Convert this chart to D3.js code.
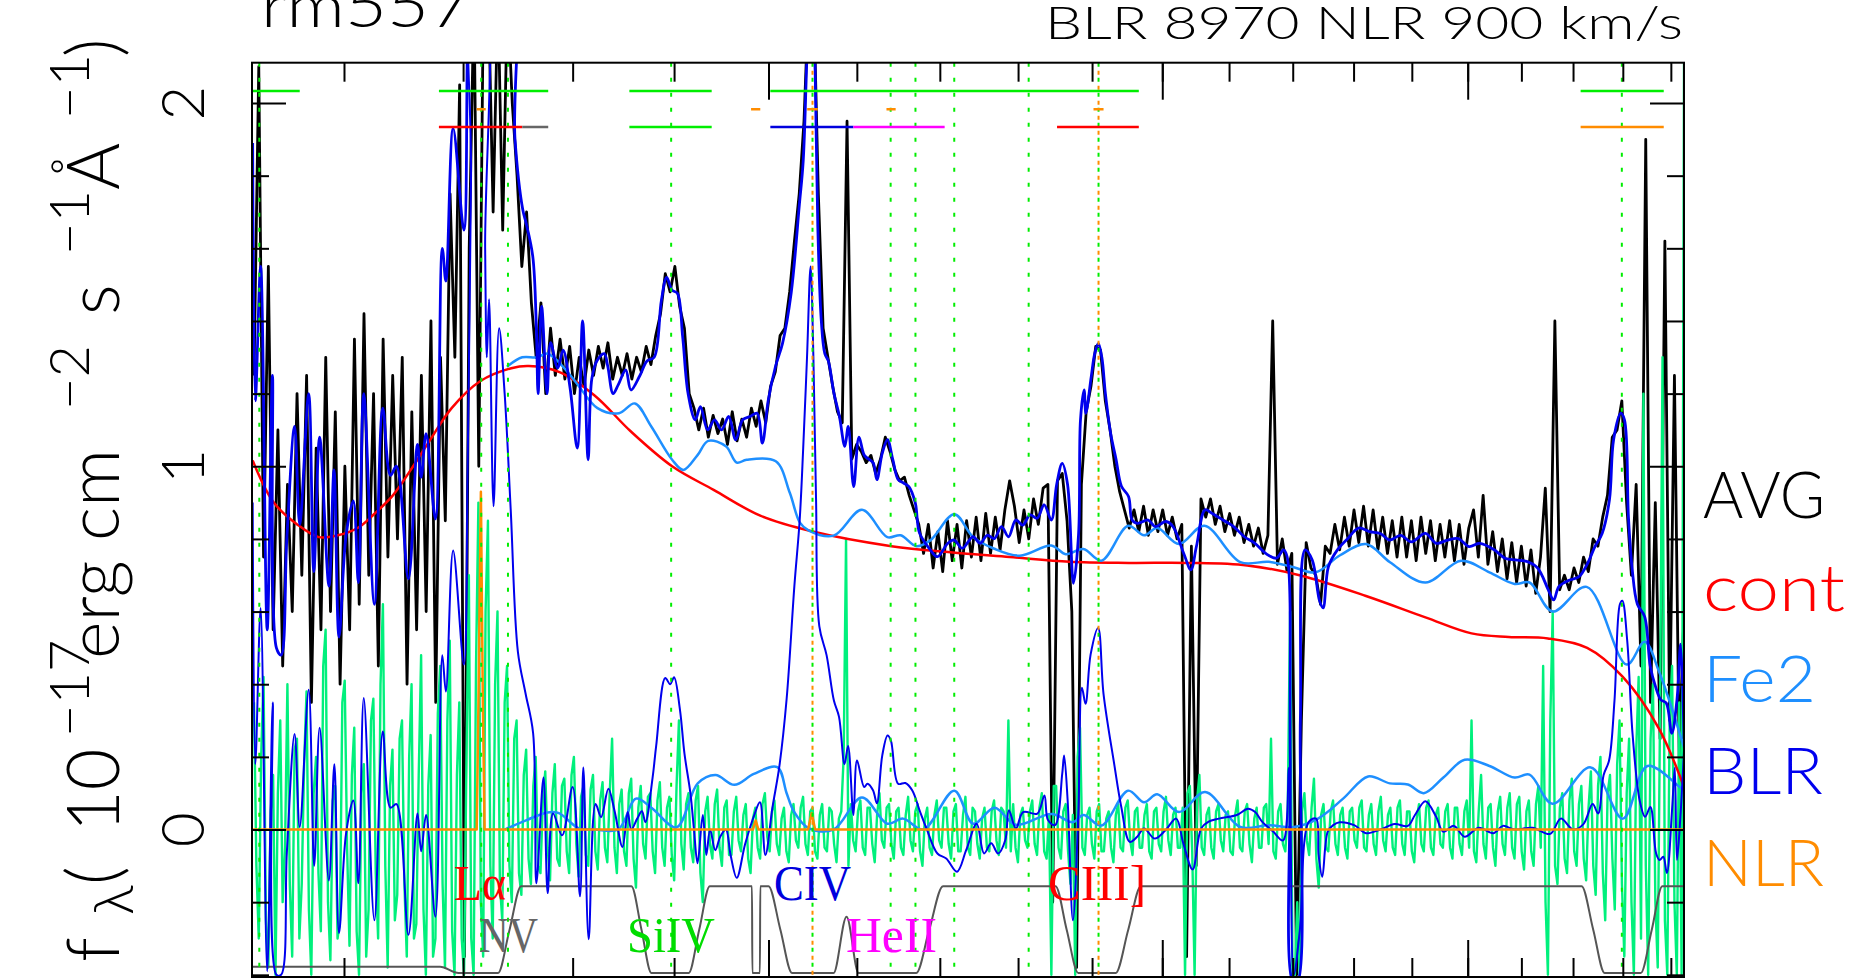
<!DOCTYPE html>
<html>
<head>
<meta charset="utf-8">
<script src="https://cdn.jsdelivr.net/npm/d3@7"></script>
<style>
html, body { margin: 0; padding: 0; background: #fff; overflow: hidden; }
svg { display: block; }
.hershey { font-family: Lato, "DejaVu Sans", sans-serif; font-weight: 300; }
.serif { font-family: "Liberation Serif", "Times New Roman", serif; }
</style>
</head>
<body>
<div id="chart-area"></div>
<script>
//DATA
// rest-frame wavelength range (log spaced) of the two noisy series
var gridLo = 1030, gridHi = 2928;

var avgFlux = [
	1.25, 2.10, 0.75, 1.55, 0.55, 1.10, 0.45, 0.95, 0.60, 1.20,
	0.70, 1.25, 0.35, 1.05, 0.55, 1.30, 0.60, 1.15, 0.40, 1.00,
	0.55, 1.35, 0.62, 1.42, 0.70, 1.20, 0.45, 1.35, 0.75, 1.25,
	0.80, 1.30, 0.40, 1.15, 0.55, 1.25, 0.60, 1.40, 0.35, 1.30,
	0.85, 1.75, 1.30, 2.05, -0.35, 1.60, 2.30, 1.00, 2.35, 2.30,
	1.70, 2.30, 1.65, 2.30, 2.00, 1.80, 1.55, 1.70, 1.45, 1.30,
	1.45, 1.20, 1.38, 1.25, 1.35, 1.24, 1.33, 1.20, 1.30, 1.22,
	1.32, 1.25, 1.33, 1.27, 1.34, 1.24, 1.30, 1.25, 1.31, 1.24,
	1.30, 1.26, 1.33, 1.28, 1.36, 1.42, 1.53, 1.48, 1.55, 1.44,
	1.38, 1.20, 1.16, 1.10, 1.16, 1.08, 1.14, 1.09, 1.13, 1.06,
	1.15, 1.07, 1.13, 1.08, 1.16, 1.11, 1.18, 1.12, 1.22, 1.26,
	1.36, 1.38, 1.48, 1.62, 1.75, 1.95, 2.30, 2.30, 1.75, 1.38,
	1.30, 1.22, 1.15, 1.12, 1.95, 1.02, 1.06, 1.04, 1.01, 1.03,
	0.98, 1.02, 1.08, 1.04, 0.99, 0.96, 0.97, 0.92, 0.88, 0.84,
	0.76, 0.84, 0.72, 0.82, 0.71, 0.85, 0.74, 0.84, 0.72, 0.85,
	0.75, 0.86, 0.74, 0.87, 0.76, 0.86, 0.77, 0.88, 0.96, 0.89,
	0.79, 0.88, 0.80, 0.91, 0.84, 0.94, 0.95, -0.20, 0.96, 0.98,
	0.85, 0.60, -0.38, 0.95, 1.15, 1.22, 1.33, 1.32, 1.18, 1.10,
	1.00, 0.93, 0.88, 0.83, 0.88, 0.82, 0.89, 0.81, 0.88, 0.82,
	0.88, 0.81, 0.86, 0.80, 0.84, -0.35, 0.78, -0.10, 0.91, 0.86,
	0.91, 0.84, 0.89, 0.82, 0.87, 0.81, 0.86, 0.79, 0.84, 0.78,
	0.83, 0.76, 0.81, 1.40, 0.73, 0.80, 0.71, 0.76, -0.40, 0.30,
	0.79, 0.72, 0.70, 0.62, 0.78, 0.76, 0.84, 0.77, 0.86, 0.78,
	0.88, 0.79, 0.89, 0.78, 0.88, 0.77, 0.86, 0.76, 0.85, 0.75,
	0.86, 0.75, 0.85, 0.74, 0.86, 0.76, 0.85, 0.74, 0.84, 0.75,
	0.85, 0.74, 0.84, 0.73, 0.83, 0.88, 0.75, 0.92, 0.73, 0.82,
	0.71, 0.80, 0.69, 0.79, 0.68, 0.78, 0.67, 0.77, 0.65, 0.75,
	0.94, 0.60, 1.40, 0.66, 0.70, 0.66, 0.72, 0.68, 0.75, 0.71,
	0.80, 0.78, 0.86, 0.92, 1.08, 1.10, 1.18, 0.90, 0.70, 0.95,
	0.45, 1.90, 0.35, 0.90, 0.25, 1.62, 0.30, 1.25, 0.20, 0.60
];

var residFlux = [
	0.35, -0.10, -0.30, 0.20, 0.42, -0.25, -0.38, 0.05, 0.15, -0.40,
	0.10, 0.30, -0.20, -0.05, 0.40, -0.15, -0.35, 0.22, 0.25, -0.30,
	-0.15, 0.18, 0.38, -0.22, -0.40, 0.10, 0.20, -0.12, -0.28, 0.45,
	0.55, -0.20, -0.36, 0.08, 0.12, -0.30, -0.25, 0.35, 0.41, -0.05,
	-0.32, 0.15, 0.28, -0.28, -0.40, 0.10, 0.18, -0.35, -0.22, 0.30,
	0.36, -0.12, -0.30, 0.40, 0.62, -0.10, -0.38, 0.12, 0.22, -0.25,
	-0.18, 0.25, 0.30, -0.15, -0.35, 0.20, 0.40, -0.30, -0.26, 0.15,
	0.48, -0.22, -0.40, 0.12, 0.26, -0.35, -0.30, 0.32, 0.45, -0.15,
	-0.38, 0.30, 0.52, -0.28, -0.40, 0.15, 0.35, -0.30, -0.40, 0.20,
	0.70, -0.30, -0.40, 0.45, 0.90, -0.20, -0.35, 0.60, 0.85, -0.10,
	-0.30, 0.40, 0.60, -0.15, -0.25, 0.35, 0.45, -0.10, -0.20, 0.25,
	0.30, -0.12, -0.18, 0.15, 0.22, -0.08, -0.15, 0.12, 0.20, -0.10,
	-0.12, 0.08, 0.16, -0.05, -0.14, 0.10, 0.18, -0.08, -0.10, 0.12,
	0.14, -0.06, -0.12, 0.15, 0.20, -0.04, -0.13, 0.09, 0.12, -0.07,
	-0.10, 0.11, 0.15, -0.06, -0.11, 0.08, 0.13, -0.05, -0.09, 0.10,
	0.25, -0.05, -0.12, 0.07, 0.11, -0.06, -0.10, 0.10, 0.14, -0.08,
	-0.16, 0.06, 0.12, -0.04, -0.08, 0.09, 0.10, -0.06, -0.12, 0.08,
	0.13, -0.05, -0.10, 0.06, 0.09, -0.07, -0.14, 0.12, 0.30, -0.04,
	-0.11, 0.07, 0.10, -0.05, -0.09, 0.08, 0.12, -0.12, -0.20, 0.05,
	0.09, -0.04, -0.08, 0.07, 0.11, -0.05, -0.10, 0.06, 0.08, -0.07,
	-0.07, 0.05, 0.09, -0.03, -0.06, 0.04, 0.07, -0.08, -0.12, 0.03,
	0.06, -0.05, -0.08, 0.07, 0.10, -0.02, -0.06, 0.05, 0.08, -0.04,
	-0.07, 0.03, 0.06, -0.06, -0.09, 0.04, 0.07, -0.03, -0.05, 0.06,
	0.09, -0.04, -0.07, 0.05, 0.06, -0.06, -0.08, 0.04, 0.07, -0.05,
	-0.06, 0.06, 0.05, -0.04, -0.09, 0.03, 0.05, 0.20, 0.80, -0.10,
	0.07, -0.03, -0.06, 0.05, 0.08, -0.05, -0.07, 0.06, 0.06, -0.04,
	-0.09, 0.04, 0.10, -0.03, -0.05, 0.06, 0.07, -0.04, -0.08, 0.05,
	0.06, -0.05, -0.07, 0.04, 0.09, -0.03, -0.06, 0.05, 0.07, -0.06,
	-0.10, 0.03, 0.06, -0.05, -0.07, 0.04, 0.08, -0.03, -0.05, 0.06,
	0.06, -0.04, -0.08, 0.05, 0.07, -0.06, -0.06, 0.04, 0.09, -0.05,
	-0.07, 0.06, 0.05, -0.04, -0.08, 0.03, 0.06, -0.05, -0.06, 0.05,
	0.08, -0.03, -0.07, 0.06, 0.05, -0.05, 0.30, -0.06, 0.07, -0.05,
	-0.09, 0.04, 0.06, -0.03, -0.05, 0.05, 0.08, -0.04, -0.07, 0.06,
	0.10, -0.06, -0.08, 0.04, -0.40, 0.12, 0.12, -0.05, -0.08, 0.05,
	0.07, -0.06, -0.15, 0.04, -0.40, 0.20, 0.28, -0.05, -0.07, 0.04,
	0.06, -0.04, -0.08, 0.05, 0.07, -0.06, -0.06, 0.03, 0.05, -0.05,
	-0.09, 0.04, 0.07, -0.05, -0.06, 0.06, 0.08, -0.03, -0.07, 0.05,
	0.06, -0.05, -0.05, 0.04, 0.07, -0.06, -0.08, 0.05, 0.06, -0.04,
	-0.06, 0.05, 0.09, -0.03, -0.07, 0.04, 0.06, -0.05, -0.05, 0.06,
	-0.40, 0.10, 0.12, -0.06, -0.40, 0.08, 0.15, -0.05, -0.07, 0.04,
	0.06, -0.05, -0.08, 0.05, 0.07, -0.03, -0.06, 0.04, 0.05, -0.06,
	-0.07, 0.04, 0.08, -0.05, -0.06, 0.05, 0.07, -0.04, -0.09, 0.03,
	0.06, -0.05, -0.05, 0.06, 0.07, -0.04, 0.25, -0.06, -0.08, 0.05,
	0.07, -0.04, -0.06, 0.05, 0.60, -0.40, -0.40, -0.20, -0.40, 0.05,
	0.10, -0.03, -0.07, 0.06, 0.14, -0.08, -0.16, 0.04, 0.07, -0.05,
	-0.06, 0.05, 0.08, -0.04, -0.07, 0.04, 0.06, -0.05, -0.08, 0.05,
	0.06, -0.03, -0.05, 0.06, 0.08, -0.05, -0.06, 0.04, 0.07, -0.04,
	-0.07, 0.05, 0.09, -0.03, -0.06, 0.04, 0.06, -0.05, -0.07, 0.06,
	0.08, -0.04, -0.07, 0.05, 0.05, -0.06, -0.09, 0.03, 0.07, -0.04,
	-0.06, 0.06, 0.08, -0.05, -0.07, 0.04, 0.06, -0.04, -0.05, 0.05,
	0.07, -0.05, -0.08, 0.06, 0.06, -0.04, -0.07, 0.05, 0.08, -0.05,
	0.30, -0.06, -0.09, 0.05, 0.15, -0.04, -0.08, 0.06, 0.07, -0.05,
	-0.10, 0.05, 0.09, -0.04, -0.07, 0.06, 0.10, -0.05, -0.08, 0.07,
	0.09, -0.06, -0.11, 0.05, 0.08, -0.06, -0.10, 0.07, 0.12, -0.05,
	0.45, -0.20, -0.40, 0.30, 0.60, -0.10, -0.15, 0.06, 0.10, -0.08,
	-0.12, 0.08, 0.14, -0.06, -0.10, 0.07, 0.12, -0.08, -0.14, 0.06,
	0.16, -0.10, -0.18, 0.12, 0.20, -0.12, -0.25, 0.10, 0.15, -0.08,
	-0.22, 0.18, 0.30, -0.15, -0.35, 0.10, 0.25, -0.20, -0.40, 0.22,
	0.42, -0.30, 1.20, -0.10, -0.40, 0.25, 0.40, -0.20, -0.38, 0.35,
	1.30, -0.25, -0.40, 0.30, 0.45, -0.20, -0.40, 0.35, -0.40, 2.11
];

// [wavelength, flux]
var contFlux = [
	[1029, 1.016], [1045, 0.90], [1063, 0.84], [1080, 0.805], [1095, 0.81], [1111, 0.83],
	[1125, 0.87], [1140, 0.92], [1155, 0.99], [1170, 1.065], [1190, 1.16], [1215, 1.234],
	[1243, 1.27], [1259, 1.276], [1287, 1.26], [1321, 1.195], [1356, 1.097], [1398, 1.0],
	[1441, 0.935], [1491, 0.864], [1548, 0.821], [1641, 0.78], [1713, 0.763], [1789, 0.75],
	[1869, 0.737], [1952, 0.734], [2038, 0.734], [2128, 0.727], [2211, 0.70], [2321, 0.643],
	[2424, 0.584], [2507, 0.54], [2576, 0.53], [2651, 0.526], [2728, 0.50], [2800, 0.42],
	[2874, 0.28], [2928, 0.117]
];

var fe2Flux = [
	[1237, 0], [1257, 0.026], [1276.5, 0.047], [1287, 0.045], [1306, 0.003], [1321, 0],
	[1344, 0], [1361.6, 0.085], [1377, 0.06], [1402.4, 0.006], [1424.4, 0.127], [1443, 0.15],
	[1463, 0.123], [1484, 0.153], [1509.6, 0.172], [1520, 0.10], [1528, 0.05], [1545, 0.003],
	[1573, 0], [1606, 0.088], [1636, 0.016], [1655, 0.03], [1679.6, 0], [1718, 0.107],
	[1742, 0.016], [1769.4, 0.06], [1797, 0.013], [1844.6, 0.043], [1873.6, 0.02], [1888, 0.04],
	[1913, 0.011], [1950.7, 0.107], [1973.6, 0.075], [1992.6, 0.097], [2024.6, 0.048],
	[2063.6, 0.103], [2117.4, 0.007], [2161.9, 0.012], [2201.6, 0.007], [2241, 0.03],
	[2282.5, 0.085], [2324.6, 0.146], [2361.8, 0.127], [2393, 0.124], [2421, 0.10],
	[2456, 0.143], [2494.5, 0.192], [2540, 0.175], [2587, 0.143], [2615.5, 0.151],
	[2660, 0.071], [2735, 0.171], [2800, 0.03], [2851, 0.175], [2920, 0.116], [2928, 0.11]
];

var contFe2Flux = [
	[1239, 1.274], [1253, 1.30], [1266.5, 1.30], [1276.5, 1.31], [1289, 1.28], [1303.4, 1.23],
	[1323.8, 1.16], [1344.8, 1.146], [1360.4, 1.173], [1376.7, 1.11], [1398, 1.018],
	[1409.5, 0.99], [1424, 1.03], [1435.4, 1.07], [1454, 1.055], [1465.6, 1.01], [1476.3, 1.018],
	[1508, 1.014], [1523.5, 0.927], [1534.8, 0.845], [1544.9, 0.823], [1573, 0.809],
	[1606, 0.88], [1636, 0.805], [1652, 0.81], [1671, 0.78], [1688.2, 0.796], [1718, 0.868],
	[1742, 0.805], [1769, 0.773], [1802.4, 0.754], [1844.2, 0.782], [1863.8, 0.758],
	[1888, 0.772], [1913, 0.74], [1950.7, 0.836], [1973.6, 0.81], [1992.6, 0.83],
	[2024.6, 0.786], [2062.5, 0.836], [2117.4, 0.736], [2161.9, 0.737], [2201.6, 0.722],
	[2237, 0.708], [2277.4, 0.755], [2321, 0.786], [2362, 0.736], [2424, 0.68], [2488, 0.74],
	[2540, 0.708], [2587, 0.676], [2615.5, 0.68], [2660, 0.60], [2727, 0.668], [2808, 0.454],
	[2845, 0.517], [2875, 0.435], [2928, 0.226]
];

var blrFlux = [
	[1029, 0.9], [1031, 0.18], [1035, 0.61], [1040, -0.39], [1044.2, 0.35], [1047, -0.40],
	[1050.6, -0.40], [1055, -0.065], [1061, 0.263], [1065, 0.007], [1072, 0.385], [1076.3, -0.10],
	[1080.6, 0.28], [1087.9, -0.14], [1092.3, 0.18], [1096, -0.285], [1101.7, -0.01],
	[1107.5, 0.08], [1111.6, -0.148], [1116, 0.362], [1124.7, -0.25], [1131.6, 0.27],
	[1138, 0.06], [1143, 0.07], [1153, -0.29], [1160.7, 0.044], [1163.8, -0.06], [1168, 0.04],
	[1176, -0.24], [1181.9, 0.48], [1185, 0.38], [1191.3, 0.768], [1200.7, 0.454], [1204, 1.0],
	[1207, 1.8], [1209, 2.4], [1218, 2.4], [1219.5, 1.6], [1221, 1.30], [1223, 1.46],
	[1227, 0.89], [1232, 1.38], [1237, 1.2], [1242.5, 0.88], [1249, 0.49], [1256, 0.375],
	[1263, 0.265], [1266, -0.148], [1272.6, 0.143], [1276.5, -0.175], [1281.5, 0.044],
	[1290, -0.016], [1300, 0.117], [1307, -0.184], [1310.2, 0.171], [1315.3, -0.302],
	[1322, 0.07], [1327.3, 0.034], [1334.4, 0.112], [1340.5, 0.05], [1348.2, -0.048],
	[1353.4, 0.048], [1356.9, 0.0], [1362.8, 0.03], [1367.5, 0.05], [1371, 0.02],
	[1378.2, 0.143], [1381.8, 0.23], [1391, 0.417], [1396, 0.40], [1400, 0.419], [1406, 0.33],
	[1410.7, 0.208], [1416.8, 0.10], [1420.5, 0.0], [1424.2, -0.093], [1429.7, 0.04],
	[1433.4, -0.07], [1437.3, 0.0], [1442.8, -0.057], [1448, -0.02], [1454, 0.0], [1459, -0.07],
	[1465.6, -0.133], [1474.6, -0.04], [1484.5, 0.04], [1490.6, 0.075], [1496.6, -0.07],
	[1504.3, 0.06], [1512, 0.175], [1520, 0.36], [1528.6, 0.67], [1534.5, 0.85], [1538.5, 1.05],
	[1542.8, 1.3], [1546.8, 1.55], [1550, 1.3], [1553, 0.91], [1556.7, 0.56], [1565, 0.48],
	[1573.4, 0.355], [1579.3, 0.31], [1585.6, 0.18], [1589.8, 0.23], [1596, 0.04],
	[1600.2, 0.19], [1608.6, 0.117], [1612.5, 0.126], [1619, 0.108], [1623.6, 0.072],
	[1630, 0.204], [1636.3, 0.259], [1640.3, 0.245], [1649, 0.126], [1657.7, 0.128],
	[1666, 0.108], [1675, 0.053], [1683.5, 0.003], [1697, -0.066], [1708, -0.08],
	[1721.5, -0.116], [1733, -0.057], [1746.4, 0.016], [1755.8, -0.066], [1765, -0.038],
	[1774, -0.066], [1783.3, -0.029], [1788, 0.053], [1797.2, 0.003], [1806.7, 0.048],
	[1825.5, 0.044], [1835, 0.094], [1839.8, 0.026], [1849.4, 0.012], [1859, 0.153],
	[1861.6, 0.204], [1866.4, 0.08], [1873.6, -0.25], [1881, 0.044], [1886, 0.39],
	[1891, 0.346], [1898, 0.482], [1908.4, 0.555], [1916, 0.373], [1931, 0.18], [1941, 0.062],
	[1953, -0.034], [1963.7, -0.02], [1973.6, 0.003], [1989, -0.025], [2004.7, -0.002],
	[2020.4, 0.03], [2031, -0.038], [2044.8, -0.11], [2057.6, 0.003], [2068.3, 0.021],
	[2084.5, 0.03], [2112, 0.04], [2129.3, 0.057], [2140.4, 0.048], [2151.7, 0.021],
	[2168.4, -0.005], [2184.5, -0.03], [2194, 0.17], [2201.6, -0.40], [2211.3, -0.28],
	[2226, 0.021], [2237.9, 0.03], [2242, -0.07], [2248, -0.13], [2257, -0.006], [2266, 0.012],
	[2277, 0.02], [2301, 0.012], [2321, -0.01], [2345.5, 0.0], [2370, 0.015], [2393, 0.01],
	[2405.5, 0.04], [2424, 0.078], [2443, 0.035], [2455.8, -0.006], [2475, 0.01],
	[2494.5, -0.02], [2520, 0.005], [2547.8, -0.01], [2565, 0.01], [2587, 0.0], [2621, 0.005],
	[2655.3, -0.012], [2676, 0.03], [2700, 0.0], [2720.6, 0.015], [2739, 0.07], [2750, 0.044],
	[2761, 0.15], [2772, 0.19], [2783, 0.355], [2794, 0.62], [2799, 0.63], [2809, 0.52],
	[2820, 0.263], [2834.7, 0.08], [2846, 0.035], [2857, 0.062], [2869, -0.066],
	[2876.3, -0.084], [2884, -0.075], [2891.6, -0.12], [2902.5, 0.053], [2908.4, 0.17],
	[2913, -0.084], [2920.3, 0.035], [2928, 0.217]
];

var totalFlux = [
	[1029, 1.89], [1031, 1.18], [1035, 1.55], [1040, 0.55], [1044, 1.25], [1047, 0.5],
	[1050.6, 0.48], [1055, 0.80], [1061, 1.11], [1065, 0.84], [1072, 1.2], [1076, 0.71],
	[1080.6, 1.08], [1088, 0.67], [1092, 0.99], [1096, 0.53], [1101.7, 0.81], [1107.5, 0.905],
	[1111.6, 0.68], [1116, 1.2], [1124.7, 0.62], [1131.6, 1.16], [1138, 0.975], [1143, 1.0],
	[1153, 0.69], [1160.7, 1.06], [1163.8, 0.97], [1168, 1.09], [1176, 0.855], [1181.9, 1.6],
	[1185, 1.51], [1191.3, 1.93], [1200.7, 1.65], [1204, 2.2], [1207, 2.5], [1240, 2.5],
	[1246.4, 1.9], [1253.5, 1.706], [1256.5, 1.67], [1262.7, 1.577], [1266, 1.38],
	[1267.6, 1.2], [1270.9, 1.44], [1275.9, 1.2], [1279.2, 1.34], [1285.9, 1.27], [1291, 1.32],
	[1297.6, 1.215], [1304.4, 1.05], [1309.5, 1.4], [1314.8, 1.018], [1318.3, 1.24],
	[1323.2, 1.29], [1330.3, 1.31], [1333.8, 1.275], [1339, 1.2], [1344, 1.224],
	[1351.4, 1.265], [1356.6, 1.21], [1365.5, 1.25], [1372.6, 1.29], [1379.8, 1.30],
	[1387, 1.455], [1392.4, 1.52], [1397.9, 1.485], [1403.4, 1.476], [1408.8, 1.357],
	[1414.4, 1.2], [1421.8, 1.128], [1427.2, 1.164], [1434.7, 1.1], [1442, 1.128],
	[1449.4, 1.1], [1457, 1.137], [1464.5, 1.073], [1472, 1.128], [1480, 1.137],
	[1487.5, 1.146], [1493.3, 1.064], [1499.7, 1.182], [1507.6, 1.274], [1515.5, 1.339],
	[1525, 1.476], [1534.2, 1.72], [1538.5, 1.84], [1542.6, 2.12], [1548, 2.45],
	[1551.8, 2.12], [1555, 1.66], [1559, 1.40], [1563, 1.31], [1567, 1.29], [1573.5, 1.2],
	[1579.7, 1.138], [1586, 1.055], [1590, 1.11], [1596.3, 0.944], [1602.5, 1.08],
	[1608.8, 1.03], [1615, 1.018], [1619.3, 1.009], [1623.6, 0.963], [1630, 1.036],
	[1636.2, 1.073], [1642.6, 1.018], [1649.1, 0.963], [1655.5, 0.954], [1662, 0.944],
	[1669.8, 0.899], [1675, 0.816], [1688.2, 0.77], [1697, 0.751], [1710, 0.788],
	[1718, 0.797], [1728, 0.774], [1741.7, 0.806], [1750.8, 0.788], [1759.8, 0.81],
	[1769, 0.801], [1778.3, 0.834], [1787.5, 0.806], [1797, 0.852], [1806.3, 0.838],
	[1815.8, 0.866], [1825.3, 0.857], [1834.7, 0.894], [1844.3, 0.852], [1851.5, 0.95],
	[1859, 1.008], [1866.3, 0.95], [1874.3, 0.678], [1881.4, 0.815], [1884, 1.128],
	[1889, 1.21], [1891.4, 1.146], [1898.8, 1.246], [1903.7, 1.31], [1908.7, 1.338],
	[1913.6, 1.3], [1918.6, 1.2], [1926, 1.09], [1933.7, 1.018], [1941.2, 0.945],
	[1951.3, 0.917], [1956.4, 0.852], [1964, 0.843], [1979.5, 0.852], [1989.8, 0.834],
	[2005.4, 0.848], [2015.8, 0.834], [2031.6, 0.76], [2042.3, 0.715], [2050.5, 0.779],
	[2063.6, 0.88], [2074.4, 0.87], [2090.7, 0.852], [2107, 0.834], [2123.6, 0.806],
	[2140.2, 0.788], [2157, 0.76], [2173.9, 0.747], [2185.3, 0.77], [2191, 0.751],
	[2196, 0.2], [2200.6, -0.42], [2207.4, -0.42], [2212.3, 0.3], [2220, 0.77],
	[2231.6, 0.742], [2243.5, 0.63], [2249.3, 0.61], [2258.2, 0.724], [2273, 0.77],
	[2289.7, 0.8], [2308.5, 0.83], [2326.8, 0.82], [2345.3, 0.815], [2361.8, 0.797],
	[2380.5, 0.81], [2399, 0.792], [2424, 0.815], [2443, 0.788], [2463.5, 0.797],
	[2482.8, 0.801], [2502.3, 0.779], [2522.2, 0.788], [2549, 0.77], [2569, 0.747],
	[2589, 0.742], [2610, 0.738], [2631, 0.72], [2651.6, 0.66], [2662, 0.632],
	[2672.4, 0.669], [2693.6, 0.687], [2712, 0.696], [2729, 0.733], [2743.5, 0.779],
	[2758, 0.815], [2772.7, 0.907], [2781.2, 1.073], [2795.8, 1.146], [2803.4, 1.128],
	[2811.5, 0.861], [2819, 0.72], [2830, 0.62], [2845, 0.586], [2856.6, 0.45],
	[2867.6, 0.394], [2879, 0.357], [2890.4, 0.348], [2902, 0.265], [2913, 0.357],
	[2920.8, 0.51], [2928, 0.25]
];

var nlrFlux = [
	[1029, 0], [1212, 0], [1213.5, 0.34], [1215.7, 0.93], [1217.5, 0.34], [1219, 0],
	[1483, 0], [1486, 0.025], [1489, 0], [1544, 0], [1548, 0.045], [1552, 0], [2928, 0]
];

// fitting window mask, drawn in flux units along the bottom
var windowFlux = [
	[1029, -0.378], [1180, -0.378], [1196, -0.395], [1231, -0.395], [1241.5, -0.275],
	[1252, -0.156], [1357, -0.156], [1367, -0.275], [1377, -0.395], [1415, -0.395],
	[1426, -0.275], [1437, -0.156], [1482, -0.156], [1482.4, -0.395], [1490.6, -0.395],
	[1491, -0.156], [1500, -0.156], [1513, -0.275], [1526, -0.395], [1573, -0.395],
	[1588, -0.24], [1602, -0.395], [1671, -0.395], [1687, -0.275], [1704, -0.156],
	[1850, -0.156], [1865, -0.275], [1881, -0.395], [1933, -0.395], [1951, -0.275],
	[1969, -0.156], [2717, -0.156], [2740, -0.275], [2763, -0.395], [2837, -0.395],
	[2860, -0.275], [2882, -0.156], [2928, -0.156]
];

var lineWaves = [1034, 1216, 1240, 1397, 1549, 1640, 1670, 1718, 1814, 1909, 2798];
var narrowWaves = [1549, 1909];

// fit ranges marked along the top
var fitRanges = [[1029, 1065], [1179, 1277], [1355, 1439], [1502, 1966], [2715, 2885]];
var narrowMarks = [[1212, 1220], [1481, 1491], [1543, 1555], [1635, 1646], [1902, 1916]];
var lineRanges = [
	{ line: 'Lya', lo: 1179, hi: 1253 },
	{ line: 'NV', lo: 1253, hi: 1277 },
	{ line: 'SiIV', lo: 1355, hi: 1439 },
	{ line: 'CIV', lo: 1502, hi: 1596 },
	{ line: 'HeII', lo: 1596, hi: 1706 },
	{ line: 'CIII', lo: 1852, hi: 1966 },
	{ line: 'MgII', lo: 2715, hi: 2885 }
];

var lineNames = ['Lya', 'NV', 'SiIV', 'CIV', 'HeII', 'CIII'];
var lineText = { Lya: 'L\u03b1', NV: 'NV', SiIV: 'SiIV', CIV: 'CIV', HeII: 'HeII', CIII: 'CIII]' };

var legendNames = ['AVG', 'cont', 'Fe2', 'BLR', 'NLR'];

var xMinorTicks = d3.range(1100, 3000, 100);
var xMajorTicks = [1500, 2000, 2500];
var yMinorTicks = [-0.4, -0.2, 0.2, 0.4, 0.6, 0.8, 1.2, 1.4, 1.6, 1.8];
var yMajorTicks = [0, 1, 2];
var yTickLabels = ['0', '1', '2'];

// y title pieces: text, kind (n = normal, sub, sup)
var yTitleParts = [
	['f', 'n'], ['\u03bb', 'sub'], ['(', 'n'], ['10', 'n'], ['\u221217', 'sup'],
	['erg', 'n'], ['cm', 'n'], ['\u22122', 'sup'], ['s', 'n'], ['\u22121', 'sup'],
	['\u00c5', 'n'], ['\u22121', 'sup'], [')', 'n']
];

//INITIAL SETUP
var W = 1863, H = 978;
var plot = { left: 252, right: 1684, top: 62.7, bottom: 977 };

var colors = {
	avg: '#000000', resid: '#00f07c', cont: '#ff0000', fe2: '#1e8fff', blr: '#0000ee',
	nlr: '#ff8c00', window: '#555555', lineGreen: '#00ee00',
	Lya: '#ff0000', NV: '#666666', SiIV: '#00dd00', CIV: '#0000dd', HeII: '#ff00ff',
	CIII: '#ff0000', MgII: '#ff8c00'
};
var legendColors = { AVG: '#000000', cont: '#ff0000', Fe2: '#1e8fff', BLR: '#0000ee', NLR: '#ff8c00' };

var svg = d3.select('#chart-area')
	.append('svg')
	.attr('width', W)
	.attr('height', H);

//SCALES
var x = d3.scaleLog()
	.domain([1028.5, 2928])
	.range([plot.left, plot.right]);

var y = d3.scaleLinear()
	.domain([-0.406, 2.111])
	.range([plot.bottom, plot.top]);

svg.append('clipPath')
	.attr('id', 'plot-clip')
	.append('rect')
	.attr('x', plot.left)
	.attr('y', plot.top)
	.attr('width', plot.right - plot.left)
	.attr('height', plot.bottom - plot.top);

var graph = svg.append('g').attr('clip-path', 'url(#plot-clip)');

function logGrid(n) {
	return d3.range(n).map(function (i) {
		return gridLo * Math.pow(gridHi / gridLo, i / (n - 1));
	});
}
var avgGrid = logGrid(avgFlux.length);
var residGrid = logGrid(residFlux.length);

var line = d3.line()
	.x(function (d) { return x(d[0]); })
	.y(function (d) { return y(d[1]); });

var smooth = d3.line()
	.x(function (d) { return x(d[0]); })
	.y(function (d) { return y(d[1]); })
	.curve(d3.curveCatmullRom.alpha(0.5));

function drawSeries(data, gen, color, width) {
	graph.append('path')
		.datum(data)
		.attr('d', gen)
		.attr('fill', 'none')
		.attr('stroke', color)
		.attr('stroke-width', width)
		.attr('stroke-linejoin', 'round');
}

//SPECTRUM AND MODEL
drawSeries(avgGrid.map(function (w, i) { return [w, avgFlux[i]]; }), line, colors.avg, 2.8);
drawSeries(residGrid.map(function (w, i) { return [w, residFlux[i]]; }), line, colors.resid, 2.4);

var windowLine = d3.line()
	.x(function (d) { return x(d[0]); })
	.y(function (d) { return y(d[1]); })
	.curve(d3.curveMonotoneX);
drawSeries(windowFlux, windowLine, colors.window, 2);

drawSeries(contFlux, smooth, colors.cont, 2.5);
drawSeries(fe2Flux, smooth, colors.fe2, 2.5);
drawSeries(contFe2Flux, smooth, colors.fe2, 2.5);
drawSeries(blrFlux, smooth, colors.blr, 2);
drawSeries(totalFlux, smooth, colors.blr, 2.8);
drawSeries(nlrFlux, line, colors.nlr, 2.5);

//LINE MARKERS
graph.selectAll('.line-mark')
	.data(lineWaves)
	.enter()
	.append('line')
	.attr('class', 'line-mark')
	.attr('x1', function (d) { return x(d); })
	.attr('x2', function (d) { return x(d); })
	.attr('y1', plot.top)
	.attr('y2', plot.bottom)
	.attr('stroke', colors.lineGreen)
	.attr('stroke-width', 2)
	.attr('stroke-dasharray', '4,11');

graph.selectAll('.narrow-mark')
	.data(narrowWaves)
	.enter()
	.append('line')
	.attr('class', 'narrow-mark')
	.attr('x1', function (d) { return x(d); })
	.attr('x2', function (d) { return x(d); })
	.attr('y1', plot.top)
	.attr('y2', plot.bottom)
	.attr('stroke', colors.nlr)
	.attr('stroke-width', 2)
	.attr('stroke-dasharray', '4,11')
	.attr('stroke-dashoffset', 7);

function drawRanges(data, level, colorFn) {
	graph.selectAll(null)
		.data(data)
		.enter()
		.append('line')
		.attr('x1', function (d) { return x(d.lo !== undefined ? d.lo : d[0]); })
		.attr('x2', function (d) { return x(d.hi !== undefined ? d.hi : d[1]); })
		.attr('y1', y(level))
		.attr('y2', y(level))
		.attr('stroke', colorFn)
		.attr('stroke-width', 2.5);
}
drawRanges(fitRanges, 2.033, colors.lineGreen);
drawRanges(narrowMarks, 1.983, colors.nlr);
drawRanges(lineRanges, 1.934, function (d) {
	return d.line === 'SiIV' ? colors.lineGreen : colors[d.line];
});

//AXES
function tickAxis(axis, values, size, transform) {
	var g = svg.append('g')
		.attr('transform', transform)
		.call(axis.tickValues(values).tickSize(size).tickFormat(''));
	g.select('.domain').remove();
	g.selectAll('.tick line').attr('stroke', '#000').attr('stroke-width', 2);
}
tickAxis(d3.axisBottom(x), xMinorTicks, -19, 'translate(0,' + plot.bottom + ')');
tickAxis(d3.axisBottom(x), xMajorTicks, -37, 'translate(0,' + plot.bottom + ')');
tickAxis(d3.axisTop(x), xMinorTicks, -19, 'translate(0,' + plot.top + ')');
tickAxis(d3.axisTop(x), xMajorTicks, -37, 'translate(0,' + plot.top + ')');
tickAxis(d3.axisLeft(y), yMinorTicks, -17, 'translate(' + plot.left + ',0)');
tickAxis(d3.axisLeft(y), yMajorTicks, -34, 'translate(' + plot.left + ',0)');
tickAxis(d3.axisRight(y), yMinorTicks, -17, 'translate(' + plot.right + ',0)');
tickAxis(d3.axisRight(y), yMajorTicks, -34, 'translate(' + plot.right + ',0)');

svg.append('rect')
	.attr('x', plot.left)
	.attr('y', plot.top)
	.attr('width', plot.right - plot.left)
	.attr('height', plot.bottom - plot.top)
	.attr('fill', 'none')
	.attr('stroke', '#000')
	.attr('stroke-width', 2);

//LABELS
svg.selectAll('.ytick-label')
	.data(yMajorTicks)
	.enter()
	.append('text')
	.attr('class', 'ytick-label hershey')
	.attr('transform', function (d) { return 'translate(204,' + y(d) + ') rotate(-90)'; })
	.attr('text-anchor', 'middle')
	.attr('font-size', '60px')
	.text(function (d, i) { return yTickLabels[i]; });

// offsets along the rotated title, measured from its lower end
var yTitleOffsets = [0, 47, 77, 130, 225, 303, 421, 552, 647, 707, 772, 843, 905];
var yTitleShift = { n: 0, sub: 14, sup: -30 };
var yTitle = svg.append('text')
	.attr('class', 'hershey')
	.attr('transform', 'translate(119,962) rotate(-90)')
	.attr('font-size', '72px');
yTitleParts.forEach(function (p, i) {
	yTitle.append('tspan')
		.attr('x', yTitleOffsets[i])
		.attr('y', yTitleShift[p[1]])
		.attr('font-size', p[1] === 'n' ? '72px' : '56px')
		.text(p[0]);
});

svg.append('text')
	.attr('class', 'hershey')
	.attr('x', 261)
	.attr('y', 27)
	.attr('font-size', '60px')
	.attr('textLength', 210)
	.attr('lengthAdjust', 'spacingAndGlyphs')
	.text('rm557');

svg.append('text')
	.attr('class', 'hershey')
	.attr('x', 1045)
	.attr('y', 39)
	.attr('font-size', '46px')
	.attr('textLength', 638)
	.attr('lengthAdjust', 'spacingAndGlyphs')
	.text('BLR 8970 NLR 900 km/s');

var legendLayout = { AVG: [518, 122], cont: [611, 142], Fe2: [702, 113], BLR: [794, 120], NLR: [886, 121] };
svg.selectAll('.legend')
	.data(legendNames)
	.enter()
	.append('text')
	.attr('class', 'legend hershey')
	.attr('x', 1703)
	.attr('y', function (d) { return legendLayout[d][0]; })
	.attr('font-size', '65px')
	.attr('textLength', function (d) { return legendLayout[d][1]; })
	.attr('lengthAdjust', 'spacingAndGlyphs')
	.attr('fill', function (d) { return legendColors[d]; })
	.text(function (d) { return d; });

var labelLayout = {
	Lya: [454, 900, 52], NV: [479, 952, 59], SiIV: [627, 952, 88],
	CIV: [774, 900, 77], HeII: [846, 952, 91], CIII: [1048, 900, 98]
};
svg.selectAll('.line-label')
	.data(lineNames)
	.enter()
	.append('text')
	.attr('class', 'line-label serif')
	.attr('x', function (d) { return labelLayout[d][0]; })
	.attr('y', function (d) { return labelLayout[d][1]; })
	.attr('font-size', '50px')
	.attr('textLength', function (d) { return labelLayout[d][2]; })
	.attr('lengthAdjust', 'spacingAndGlyphs')
	.attr('fill', function (d) { return colors[d]; })
	.text(function (d) { return lineText[d]; });
</script>
</body>
</html>
